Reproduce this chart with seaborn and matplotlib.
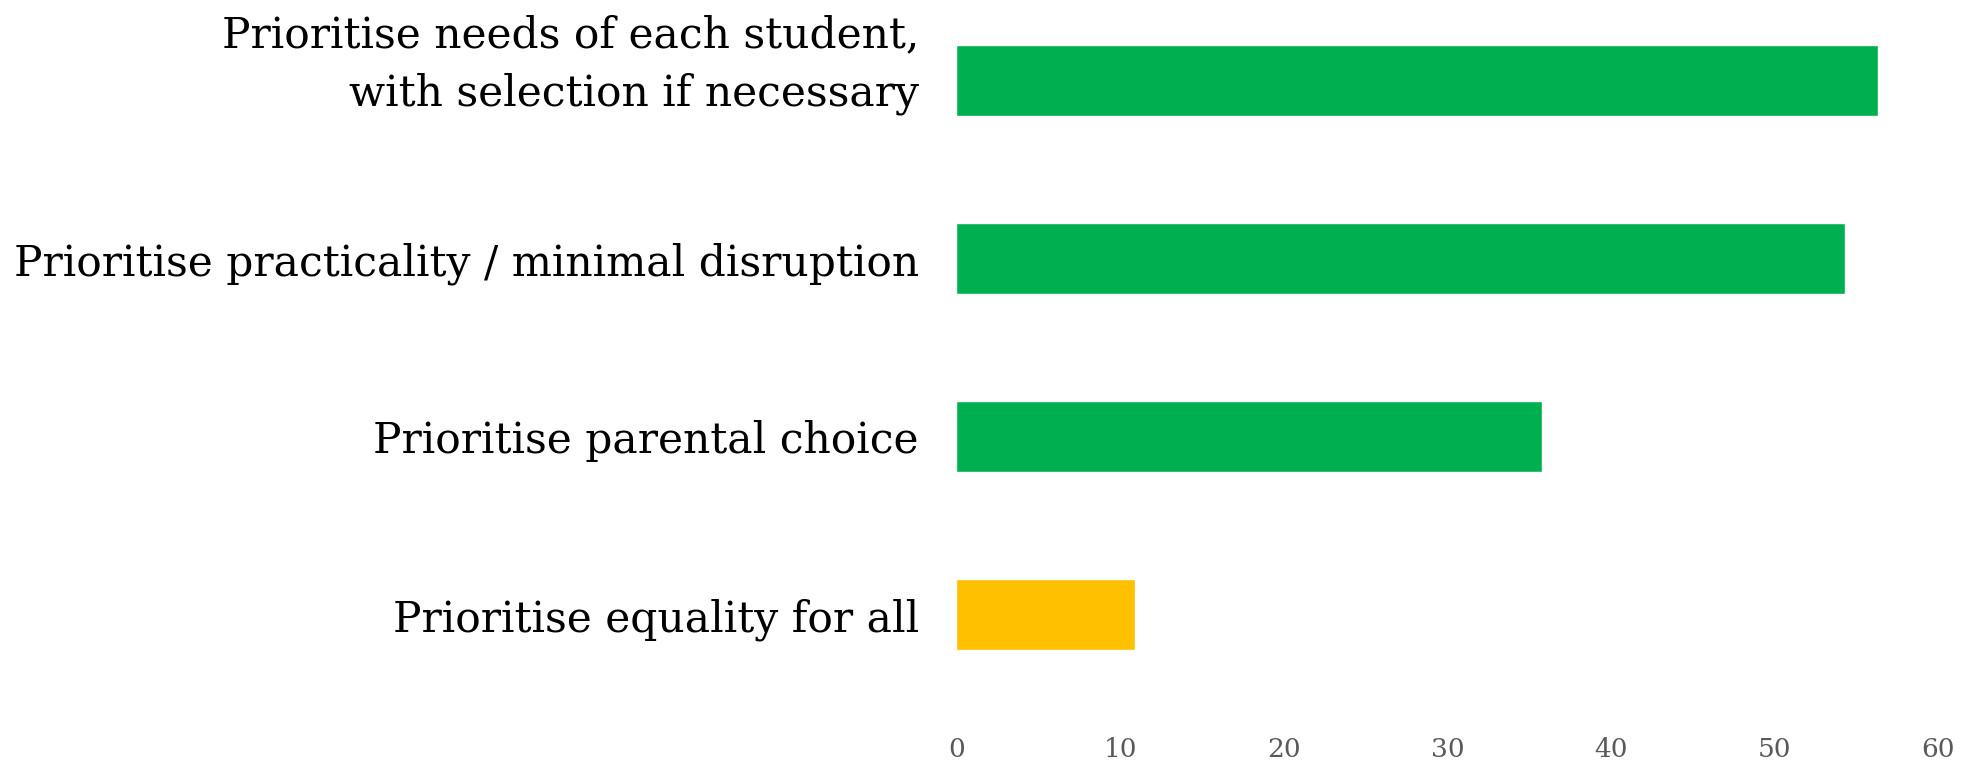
import matplotlib
matplotlib.use('Agg')
import matplotlib.pyplot as plt
import matplotlib.transforms as mtransforms
import seaborn as sns
import pandas as pd

# Chart data
options = ['Prioritise needs of each student,\nwith selection if necessary',
           'Prioritise practicality / minimal disruption',
           'Prioritise parental choice',
           'Prioritise equality for all']
scores = [56.3, 54.3, 35.8, 10.9]
bar_colors = ['#00B050', '#00B050', '#00B050', '#FFC000']
x_ticks = [0, 10, 20, 30, 40, 50, 60]

df = pd.DataFrame({'option': options, 'score': scores})

sns.set_style('white')
plt.rcParams['font.family'] = ['DejaVu Serif', 'Liberation Serif']

fig = plt.figure(figsize=(19.64, 7.6), dpi=100)
ax = fig.add_axes([0.487, 0.07, 0.5, 0.93])

sns.barplot(data=df, x='score', y='option', hue='option', palette=bar_colors,
            orient='h', width=0.4, saturation=1, legend=False, ax=ax)

ax.set_xlim(0, 60)
ax.set_ylim(3.517, -0.453)
ax.set_xticks(x_ticks)
ax.set_xlabel('')
ax.set_ylabel('')
sns.despine(ax=ax, left=True, bottom=True)
ax.tick_params(axis='y', length=0, pad=27, labelsize=30.5, labelcolor='black')
ax.tick_params(axis='x', length=0, pad=22, labelsize=19, labelcolor='#595959')

# two-line label sits a little higher than its bar
first = ax.get_yticklabels()[0]
first.set_linespacing(1.5)
shift = mtransforms.ScaledTranslation(0, 21 / 72, fig.dpi_scale_trans)
first.set_transform(first.get_transform() + shift)

fig.savefig('out.png', dpi=100)
plt.close()
